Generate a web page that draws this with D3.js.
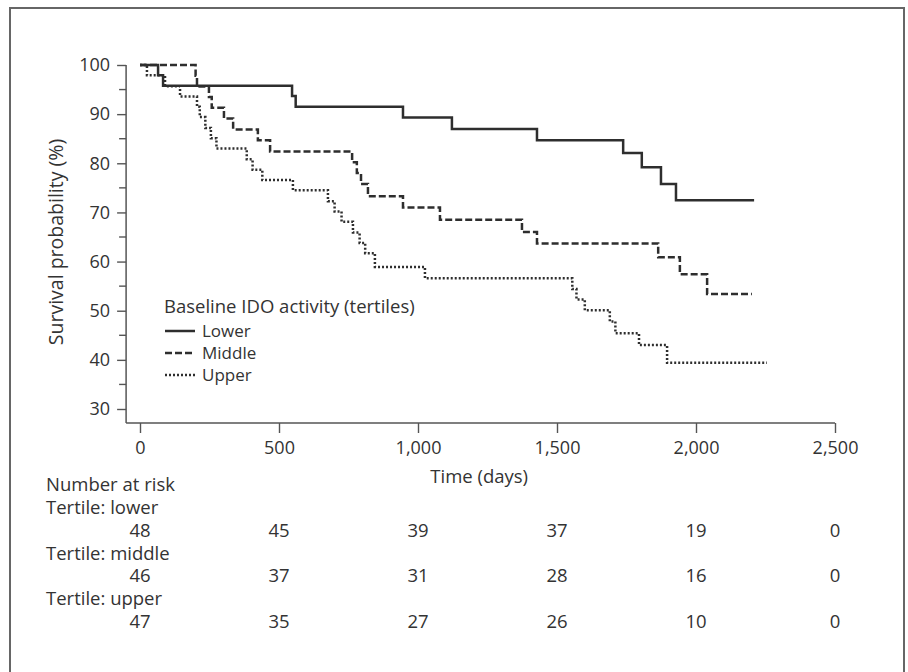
<!DOCTYPE html>
<html>
<head>
<meta charset="utf-8">
<script src="https://cdn.jsdelivr.net/npm/d3@7"></script>
<style>
  html, body { margin: 0; padding: 0; background: #fff; }
  svg { display: block; font-family: "Open Sans", "Noto Sans", sans-serif; }
</style>
</head>
<body>
<svg id="chart" width="908" height="672"></svg>
<script>
// Kaplan–Meier curves: step times (days) and survival (%)
const lowerT = [0, 65, 83, 547, 560, 946, 1122, 1428, 1738, 1805, 1874, 1928, 2209];
const lowerS = [100, 97.9, 95.8, 93.7, 91.5, 89.3, 87.0, 84.7, 82.1, 79.2, 75.8, 72.5, 72.5];

const middleT = [0, 200, 205, 248, 258, 302, 335, 424, 468, 763, 780, 795, 820, 946, 1079, 1374, 1428, 1864, 1942, 2040, 2201];
const middleS = [100, 97.8, 95.6, 93.5, 91.3, 89.1, 86.9, 84.7, 82.4, 80.2, 78.0, 75.8, 73.3, 71.0, 68.5, 66.0, 63.7, 60.9, 57.4, 53.4, 53.4];

const upperT = [0, 25, 90, 144, 205, 215, 235, 255, 275, 384, 405, 440, 550, 676, 700, 725, 766, 790, 810, 845, 1025, 1555, 1570, 1600, 1690, 1710, 1795, 1896, 2255];
const upperS = [100, 97.9, 95.7, 93.6, 91.5, 89.4, 87.2, 85.1, 83.0, 80.8, 78.7, 76.6, 74.5, 72.3, 70.2, 68.1, 65.9, 63.8, 61.7, 58.9, 56.6, 54.4, 52.3, 50.1, 47.8, 45.4, 43.0, 39.4, 39.4];

const xTicks = [0, 500, 1000, 1500, 2000, 2500];
const yTicks = [30, 40, 50, 60, 70, 80, 90, 100];
const yMinor = [35, 45, 55, 65, 75, 85, 95];

const seriesNames = ["Lower", "Middle", "Upper"];
const riskGroups = ["Tertile: lower", "Tertile: middle", "Tertile: upper"];
const riskLower = [48, 45, 39, 37, 19, 0];
const riskMiddle = [46, 37, 31, 28, 16, 0];
const riskUpper = [47, 35, 27, 26, 10, 0];

const svg = d3.select("#chart");
const ink = "#2e2e2e", txt = "#333";
const font = "'Open Sans', 'Noto Sans', sans-serif";
const fs = "18.5px";

// outer frame
svg.append("rect").attr("x", 10).attr("y", 8).attr("width", 894).attr("height", 700)
  .attr("fill", "none").attr("stroke", "#666").attr("stroke-width", 2);

const x = d3.scaleLinear().domain([0, 2500]).range([140, 835]);
const y = d3.scaleLinear().domain([30, 100]).range([409, 65]);
const axX = x(-50), axY = 423;

function styleAxis(g) {
  g.select(".domain").remove();
  g.selectAll(".tick line").attr("stroke", "#555").attr("stroke-width", 1.4);
  g.selectAll(".tick text").attr("fill", txt)
    .style("font-size", "18px").style("font-family", font);
}

// y axis
svg.append("g").attr("transform", `translate(${axX},0)`)
  .call(d3.axisLeft(y).tickValues(yTicks).tickSize(9).tickPadding(7).tickFormat(d3.format("d")))
  .call(styleAxis);
svg.append("g").selectAll("line").data(yMinor).join("line")
  .attr("x1", axX - 7).attr("x2", axX).attr("y1", (d) => y(d)).attr("y2", (d) => y(d))
  .attr("stroke", "#555").attr("stroke-width", 1.4);
svg.append("line").attr("x1", axX).attr("x2", axX).attr("y1", y(100)).attr("y2", axY)
  .attr("stroke", "#555").attr("stroke-width", 1.5);

// x axis
svg.append("g").attr("transform", `translate(0,${axY})`)
  .call(d3.axisBottom(x).tickValues(xTicks).tickSize(10).tickPadding(8).tickFormat(d3.format(",")))
  .call(styleAxis);
svg.append("line").attr("x1", axX).attr("x2", x(2500)).attr("y1", axY).attr("y2", axY)
  .attr("stroke", "#555").attr("stroke-width", 1.5);

svg.append("text").attr("x", x(1220)).attr("y", 483).attr("text-anchor", "middle")
  .attr("fill", txt).style("font-size", fs).text("Time (days)");
svg.append("text").attr("transform", "translate(63,242) rotate(-90)").attr("text-anchor", "middle")
  .attr("fill", txt).style("font-size", "19.5px").text("Survival probability (%)");

// curves
const styles = [
  { dash: null, t: lowerT, s: lowerS },
  { dash: "7 3", t: middleT, s: middleS },
  { dash: "2 2", t: upperT, s: upperS }
];
const line = d3.line().x((d) => x(d[0])).y((d) => y(d[1])).curve(d3.curveStepAfter);
styles.forEach((st) => {
  svg.append("path").datum(st.t.map((t, i) => [t, st.s[i]]))
    .attr("d", line).attr("fill", "none").attr("stroke", ink)
    .attr("stroke-width", 2.5).attr("stroke-dasharray", st.dash);
});

// legend
svg.append("text").attr("x", 164).attr("y", 313).attr("fill", txt)
  .style("font-size", fs).text("Baseline IDO activity (tertiles)");
seriesNames.forEach((n, i) => {
  const ly = 331 + i * 22;
  svg.append("line").attr("x1", 165).attr("x2", 195).attr("y1", ly).attr("y2", ly)
    .attr("stroke", ink).attr("stroke-width", 2.5).attr("stroke-dasharray", styles[i].dash);
  svg.append("text").attr("x", 202).attr("y", ly + 6).attr("fill", txt)
    .style("font-size", "17px").text(n);
});

// number at risk table
svg.append("text").attr("x", 46).attr("y", 491).attr("fill", txt)
  .style("font-size", fs).text("Number at risk");
[riskLower, riskMiddle, riskUpper].forEach((row, i) => {
  const base = 514 + i * 45.5;
  svg.append("text").attr("x", 46).attr("y", base).attr("fill", txt)
    .style("font-size", fs).text(riskGroups[i]);
  svg.append("g").selectAll("text").data(row).join("text")
    .attr("x", (d, j) => x(xTicks[j])).attr("y", base + 22.5).attr("text-anchor", "middle")
    .attr("fill", txt).style("font-size", fs).text((d) => d);
});
</script>
</body>
</html>
